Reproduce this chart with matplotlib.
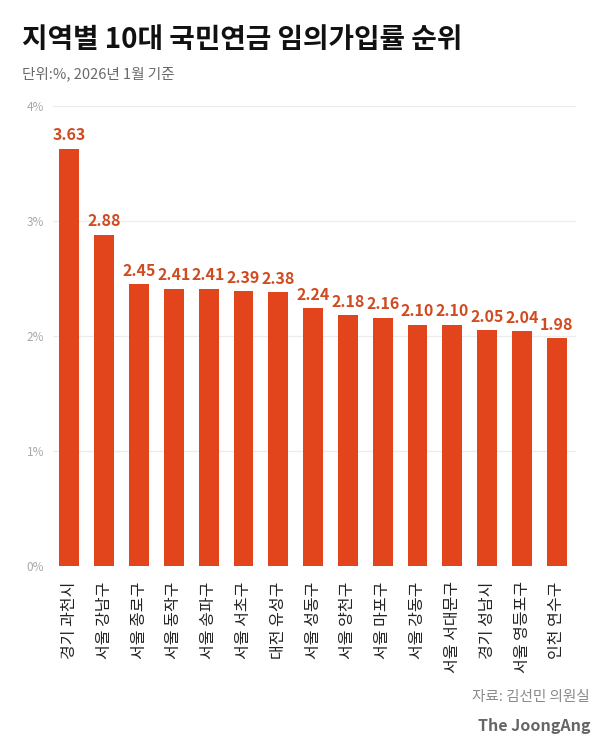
import matplotlib
matplotlib.use("Agg")
import matplotlib.pyplot as plt
import numpy as np

plt.rcParams['font.family'] = ['Noto Sans CJK KR', 'DejaVu Sans']

# data
regions = ['경기 과천시', '서울 강남구', '서울 종로구', '서울 동작구', '서울 송파구',
           '서울 서초구', '대전 유성구', '서울 성동구', '서울 양천구', '서울 마포구',
           '서울 강동구', '서울 서대문구', '경기 성남시', '서울 영등포구', '인천 연수구']
rates = [3.63, 2.88, 2.45, 2.41, 2.41, 2.39, 2.38, 2.24, 2.18, 2.16,
         2.10, 2.10, 2.05, 2.04, 1.98]
y_ticks = [0, 1, 2, 3, 4]
y_tick_labels = ['0%', '1%', '2%', '3%', '4%']

W, H = 610, 746
fig = plt.figure(figsize=(W / 100, H / 100), dpi=100)

# axes placed in pixel coords: grid from x=53 to 576, 4% at y=106, 0% at y=566
left, right, top, bottom = 53, 576, 106, 566
ax = fig.add_axes([left / W, 1 - bottom / H, (right - left) / W, (bottom - top) / H])

x = np.arange(len(regions))
bar_color = '#e2441b'
ax.bar(x, rates, width=0.57, color=bar_color, zorder=3)

for xi, v in zip(x, rates):
    ax.annotate(f'{v:.2f}', (xi, v), xytext=(0, 4), textcoords='offset points',
                ha='center', va='bottom', fontsize=11.5, fontweight='bold',
                color='#d04b20', zorder=4)

ax.set_ylim(0, 4)
ax.set_xlim(-0.47, len(regions) - 1 + 0.55)
ax.set_yticks(y_ticks)
ax.set_yticklabels(y_tick_labels, fontsize=8.5, color='#a8a8a8')
ax.grid(axis='y', color='#ececec', linewidth=0.9, zorder=0)
ax.tick_params(axis='y', length=0, pad=6.5)

ax.set_xticks(x)
ax.set_xticklabels(regions, rotation=90, fontsize=11.5, color='#222222', va='top')
ax.tick_params(axis='x', length=0, pad=11)

for s in ax.spines.values():
    s.set_visible(False)

fig.text(22 / W, 1 - 40 / H, '지역별 10대 국민연금 임의가입률 순위', fontsize=20,
         fontweight='bold', color='#111111', va='center', ha='left')
fig.text(22 / W, 1 - 74 / H, '단위:%, 2026년 1월 기준', fontsize=10.5,
         color='#6a6a6a', va='center', ha='left')
fig.text(590 / W, 1 - 697 / H, '자료: 김선민 의원실', fontsize=10.5,
         color='#8a8a8a', va='center', ha='right')
fig.text(590 / W, 1 - 726 / H, 'The JoongAng', fontsize=11.5, fontweight='bold',
         color='#666666', va='center', ha='right')

fig.savefig('out.png', dpi=100, facecolor='white')
